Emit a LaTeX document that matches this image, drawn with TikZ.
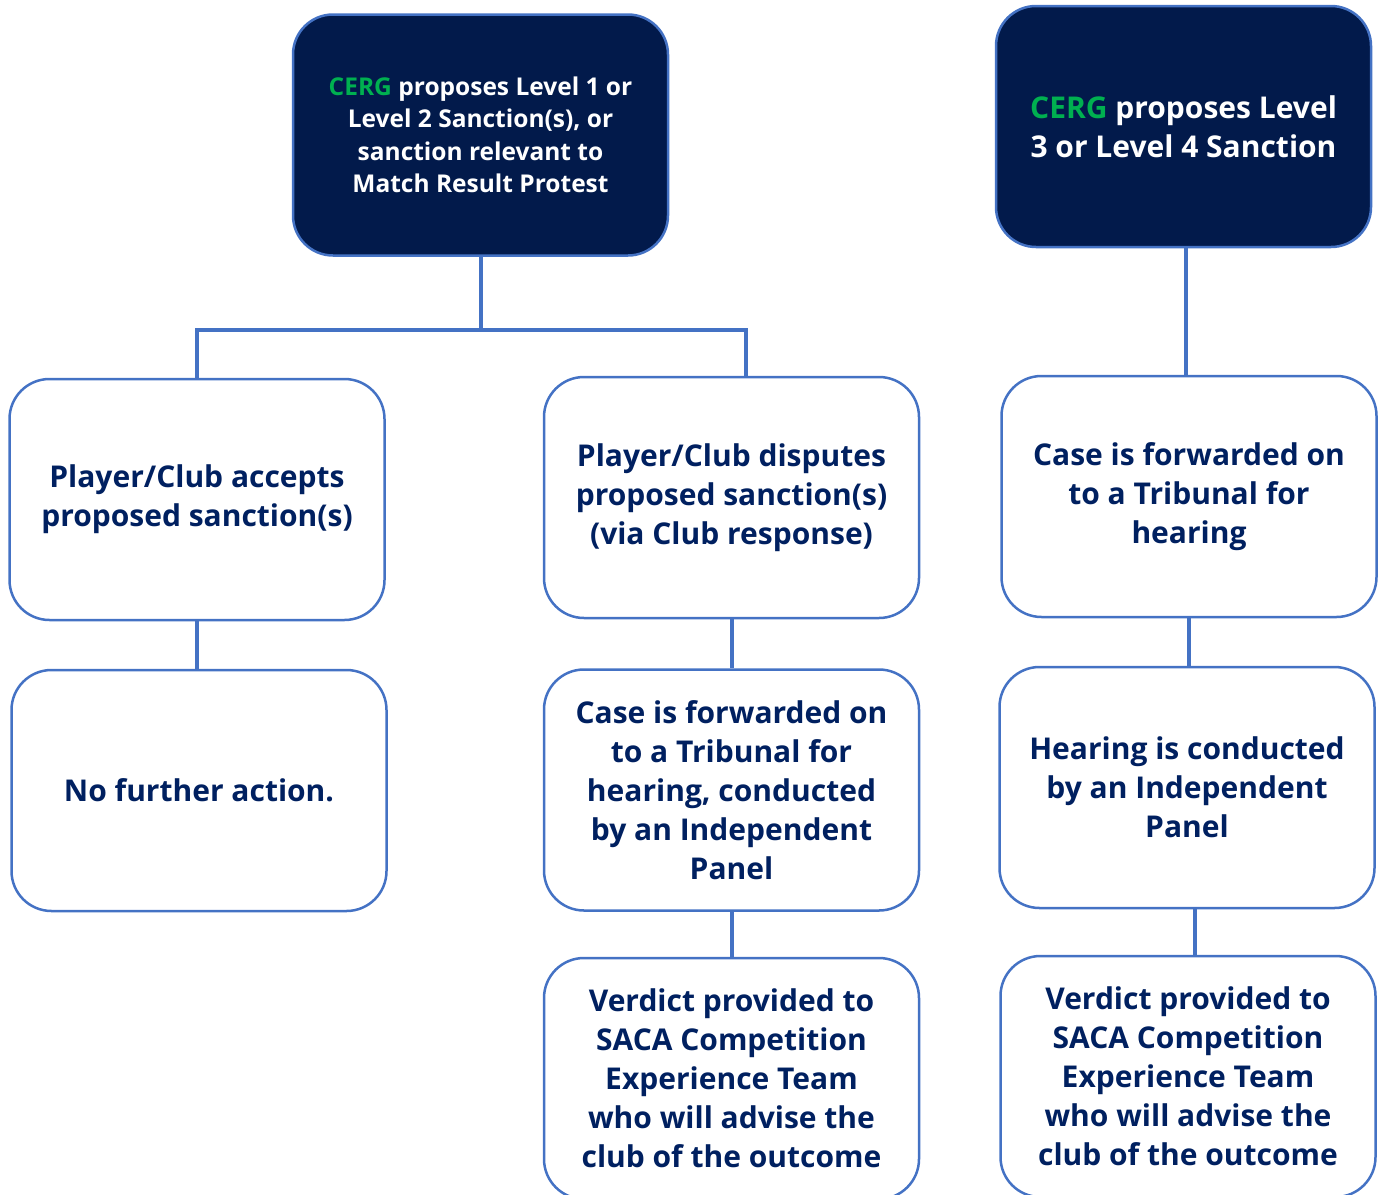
\documentclass[tikz,border=0pt]{standalone}
\usepackage{fontspec}
\setmainfont{Open Sans}
\definecolor{navyfill}{HTML}{021A4B}
\definecolor{navytext}{HTML}{002060}
\definecolor{edgeblue}{HTML}{4472C4}
\definecolor{cerggreen}{HTML}{00B050}
\begin{document}
\begin{tikzpicture}[x=1pt,y=-1pt,
    box/.style={draw=edgeblue,line width=2.5pt,rounded corners=40pt,
        minimum width=375pt,minimum height=241pt,align=center,
        font=\bfseries\fontsize{30}{39}\selectfont,text=navytext},
    darkbox/.style={box,fill=navyfill,text=white},
    link/.style={edgeblue,line width=4pt}]
    \useasboundingbox (0,0) rectangle (1384,1194);
    % top row
    \node[darkbox,font=\bfseries\fontsize{24.5}{32.5}\selectfont] (lowlevel) at (480.5,135)
        {\textcolor{cerggreen}{CERG} proposes Level 1 or\\Level 2 Sanction(s), or\\sanction relevant to\\Match Result Protest};
    \node[darkbox] (highlevel) at (1183.5,126.5)
        {\textcolor{cerggreen}{CERG} proposes Level\\3 or Level 4 Sanction};
    % second row
    \node[box] (accepts) at (197,499.5) {Player/Club accepts\\proposed sanction(s)};
    \node[box] (disputes) at (731.5,497.5) {Player/Club disputes\\proposed sanction(s)\\(via Club response)};
    \node[box] (tribunalR) at (1189,496.5) {Case is forwarded on\\to a Tribunal for\\hearing};
    % third row
    \node[box] (noaction) at (199,790.5) {No further action.};
    \node[box] (tribunalL) at (731.5,790) {Case is forwarded on\\to a Tribunal for\\hearing, conducted\\by an Independent\\Panel};
    \node[box] (hearing) at (1187,787.5) {Hearing is conducted\\by an Independent\\Panel};
    % fourth row
    \node[box] (verdictL) at (731.5,1078.5) {Verdict provided to\\SACA Competition\\Experience Team\\who will advise the\\club of the outcome};
    \node[box] (verdictR) at (1188,1076.5) {Verdict provided to\\SACA Competition\\Experience Team\\who will advise the\\club of the outcome};
    % connectors
    \coordinate (split) at (480.5,330);
    \coordinate (disputesTop) at (746,377);
    \coordinate (highlevelFoot) at (1186,247);
    \draw[link] (lowlevel.south) -- (split);
    \draw[link] (accepts.north) |- (split) -| (disputesTop);
    \draw[link] (highlevelFoot) -- (tribunalR.north -| highlevelFoot);
    \draw[link] (accepts.south) -- (noaction.north -| accepts.south);
    \draw[link] (disputes.south) -- (tribunalL.north -| disputes.south);
    \draw[link] (tribunalL.south) -- (verdictL.north);
    \draw[link] (tribunalR.south) -- (hearing.north -| tribunalR.south);
    \draw[link] ([xshift=8pt]hearing.south) -- ([xshift=7pt]verdictR.north);
\end{tikzpicture}
\end{document}
